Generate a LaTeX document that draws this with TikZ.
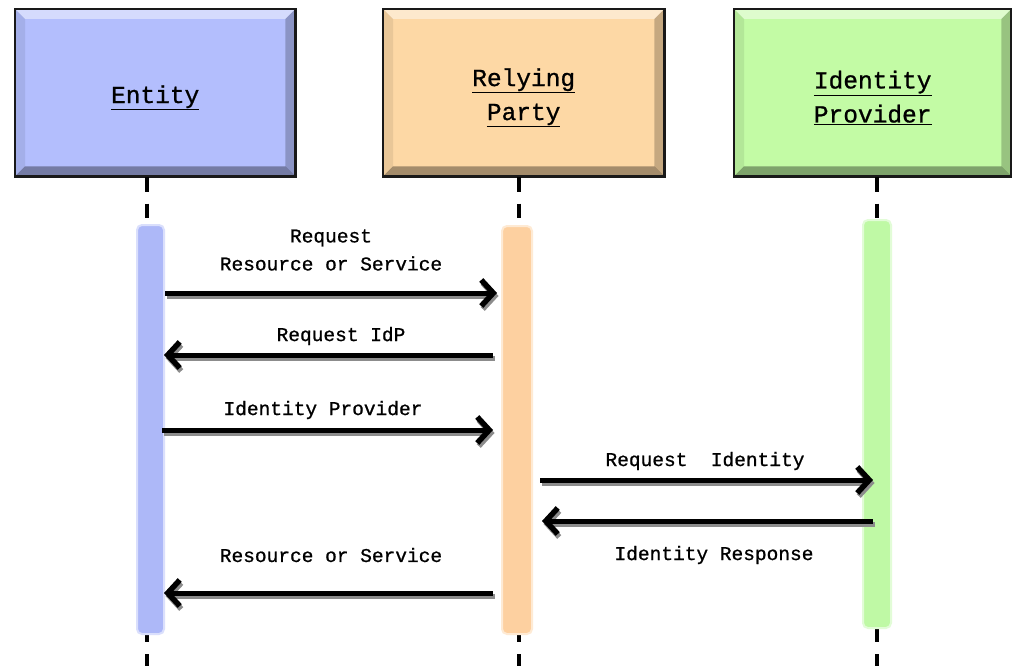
\documentclass[tikz,border=0pt]{standalone}
\usepackage{fontspec}
\newfontfamily\monofont[FakeBold=0.9]{Liberation Mono}
\usetikzlibrary{arrows.meta,calc}

\definecolor{entblue}{HTML}{B3BEFD}
\definecolor{rporange}{HTML}{FDD8A5}
\definecolor{idpgreen}{HTML}{C3FBA5}
\definecolor{entbarc}{HTML}{ADB8F8}
\definecolor{rpbarc}{HTML}{FDD0A0}
\definecolor{idpbarc}{HTML}{BFF9A5}

\tikzset{
  actor/.style={fill=#1, draw=none, inner sep=0pt},
  actortitle/.style={inner sep=0pt, align=center,
    font=\monofont\fontsize{24.5}{34}\selectfont},
  bevelhi/.style={fill=white, fill opacity=0.45, draw=none},
  bevello/.style={fill=black, fill opacity=0.35, draw=none},
  bevelside/.style={fill=black, fill opacity=0.22, draw=none},
  frame/.style={draw=black!90, line width=2.8pt},
  lifeline/.style={draw=black, line width=3.6pt, dash pattern=on 14.5pt off 12pt},
  activebar/.style={fill=#1, draw=#1!45!white, line width=2pt,
    rounded corners=5pt, inner sep=0pt},
  msg/.style={draw=black, line width=5pt,
    -{Straight Barb[length=12pt,width=26pt,line width=5.5pt]}},
  msgshadow/.style={msg, draw=black!45},
  msglabel/.style={align=center, inner sep=0pt,
    font=\monofont\fontsize{19.5}{28}\selectfont}
}

% box with a bevelled frame: name, left, right, fill colour, text
\newcommand\bevelbox[5]{%
  \node[actor=#4, minimum width={#3-#2}, minimum height=167pt,
        anchor=north west] (#1) at (#2,9) {};
  \fill[bevelhi] (#1.north west) -- (#1.north east) -- ($(#1.north east)+(-10,10)$)
     -- ($(#1.north west)+(10,10)$) -- cycle;
  \fill[bevello] (#1.south west) -- (#1.south east) -- ($(#1.south east)+(-10,-10)$)
     -- ($(#1.south west)+(10,-10)$) -- cycle;
  \fill[bevelside] (#1.north east) -- (#1.south east) -- ($(#1.south east)+(-10,-10)$)
     -- ($(#1.north east)+(-10,10)$) -- cycle;
  \fill[bevelside, fill opacity=0.08] (#1.north west) -- (#1.south west)
     -- ($(#1.south west)+(10,-10)$) -- ($(#1.north west)+(10,10)$) -- cycle;
  \draw[frame] (#1.north west) rectangle (#1.south east);
  \node[actortitle] (#1title) at ($(#1.center)+(0,5)$) {#5};
}

\begin{document}
\begin{tikzpicture}[x=1pt,y=-1pt]
\fill[white] (0,0) rectangle (1012,666);
\useasboundingbox (0,0) rectangle (1012,666);

% participants
\bevelbox{ent}{15}{295}{entblue}{\underline{Entity}}
\bevelbox{rp}{383}{664}{rporange}{\underline{Relying}\\\underline{Party}}
\bevelbox{idp}{734}{1011}{idpgreen}{\underline{Identity}\\\underline{Provider}}

% lifelines
\coordinate (entTop) at (147,177);
\coordinate (entEnd) at (147,666);
\coordinate (rpTop) at (519,177);
\coordinate (rpEnd) at (519,666);
\coordinate (idpTop) at (877,177);
\coordinate (idpEnd) at (877,666);
\draw[lifeline] (entTop) -- (entEnd);
\draw[lifeline] (rpTop) -- (rpEnd);
\draw[lifeline] (idpTop) -- (idpEnd);

% activation bars
\node[activebar=entbarc, minimum width=27pt, minimum height=409pt,
      anchor=north west] (entbar) at (136,224) {};
\node[activebar=rpbarc, minimum width=30pt, minimum height=408pt,
      anchor=north west] (rpbar) at (501,225) {};
\node[activebar=idpbarc, minimum width=28pt, minimum height=408pt,
      anchor=north west] (idpbar) at (862,219) {};

% anchor points of the messages
\coordinate (m1s) at (entbar.east |- 0,293);
\coordinate (m1e) at ([xshift=-4pt]rpbar.west |- 0,293);
\coordinate (m2s) at ([xshift=-8pt]rpbar.west |- 0,355);
\coordinate (m2e) at ([xshift=-1pt]entbar.east |- 0,355);
\coordinate (m3s) at ([xshift=-3pt]entbar.east |- 0,430);
\coordinate (m3e) at ([xshift=-8pt]rpbar.west |- 0,430);
\coordinate (m4s) at ([xshift=7pt]rpbar.east |- 0,480);
\coordinate (m4e) at ([xshift=11pt]idpbar.west |- 0,480);
\coordinate (m5s) at ([xshift=11pt]idpbar.west |- 0,521);
\coordinate (m5e) at ([xshift=9pt]rpbar.east |- 0,521);
\coordinate (m6s) at ([xshift=-8pt]rpbar.west |- 0,593);
\coordinate (m6e) at ([xshift=-1pt]entbar.east |- 0,593);

% drop shadows of the messages
\foreach \a/\b in {m1s/m1e,m2s/m2e,m3s/m3e,m4s/m4e,m5s/m5e,m6s/m6e}
  \draw[msgshadow] ($(\a)+(1.5,3)$) -- ($(\b)+(1.5,3)$);

% messages
\draw[msg] (m1s) -- (m1e);
\draw[msg] (m2s) -- (m2e);
\draw[msg] (m3s) -- (m3e);
\draw[msg] (m4s) -- (m4e);
\draw[msg] (m5s) -- (m5e);
\draw[msg] (m6s) -- (m6e);

% message labels
\node[msglabel] (l1) at (331,250) {Request\\Resource or Service};
\node[msglabel] (l2) at (341,336) {Request IdP};
\node[msglabel] (l3) at (323,410) {Identity Provider};
\node[msglabel] (l4) at (705,461) {Request\ \ Identity};
\node[msglabel] (l5) at (714,555) {Identity Response};
\node[msglabel] (l6) at (331,555) {Resource or Service};
\end{tikzpicture}
\end{document}
